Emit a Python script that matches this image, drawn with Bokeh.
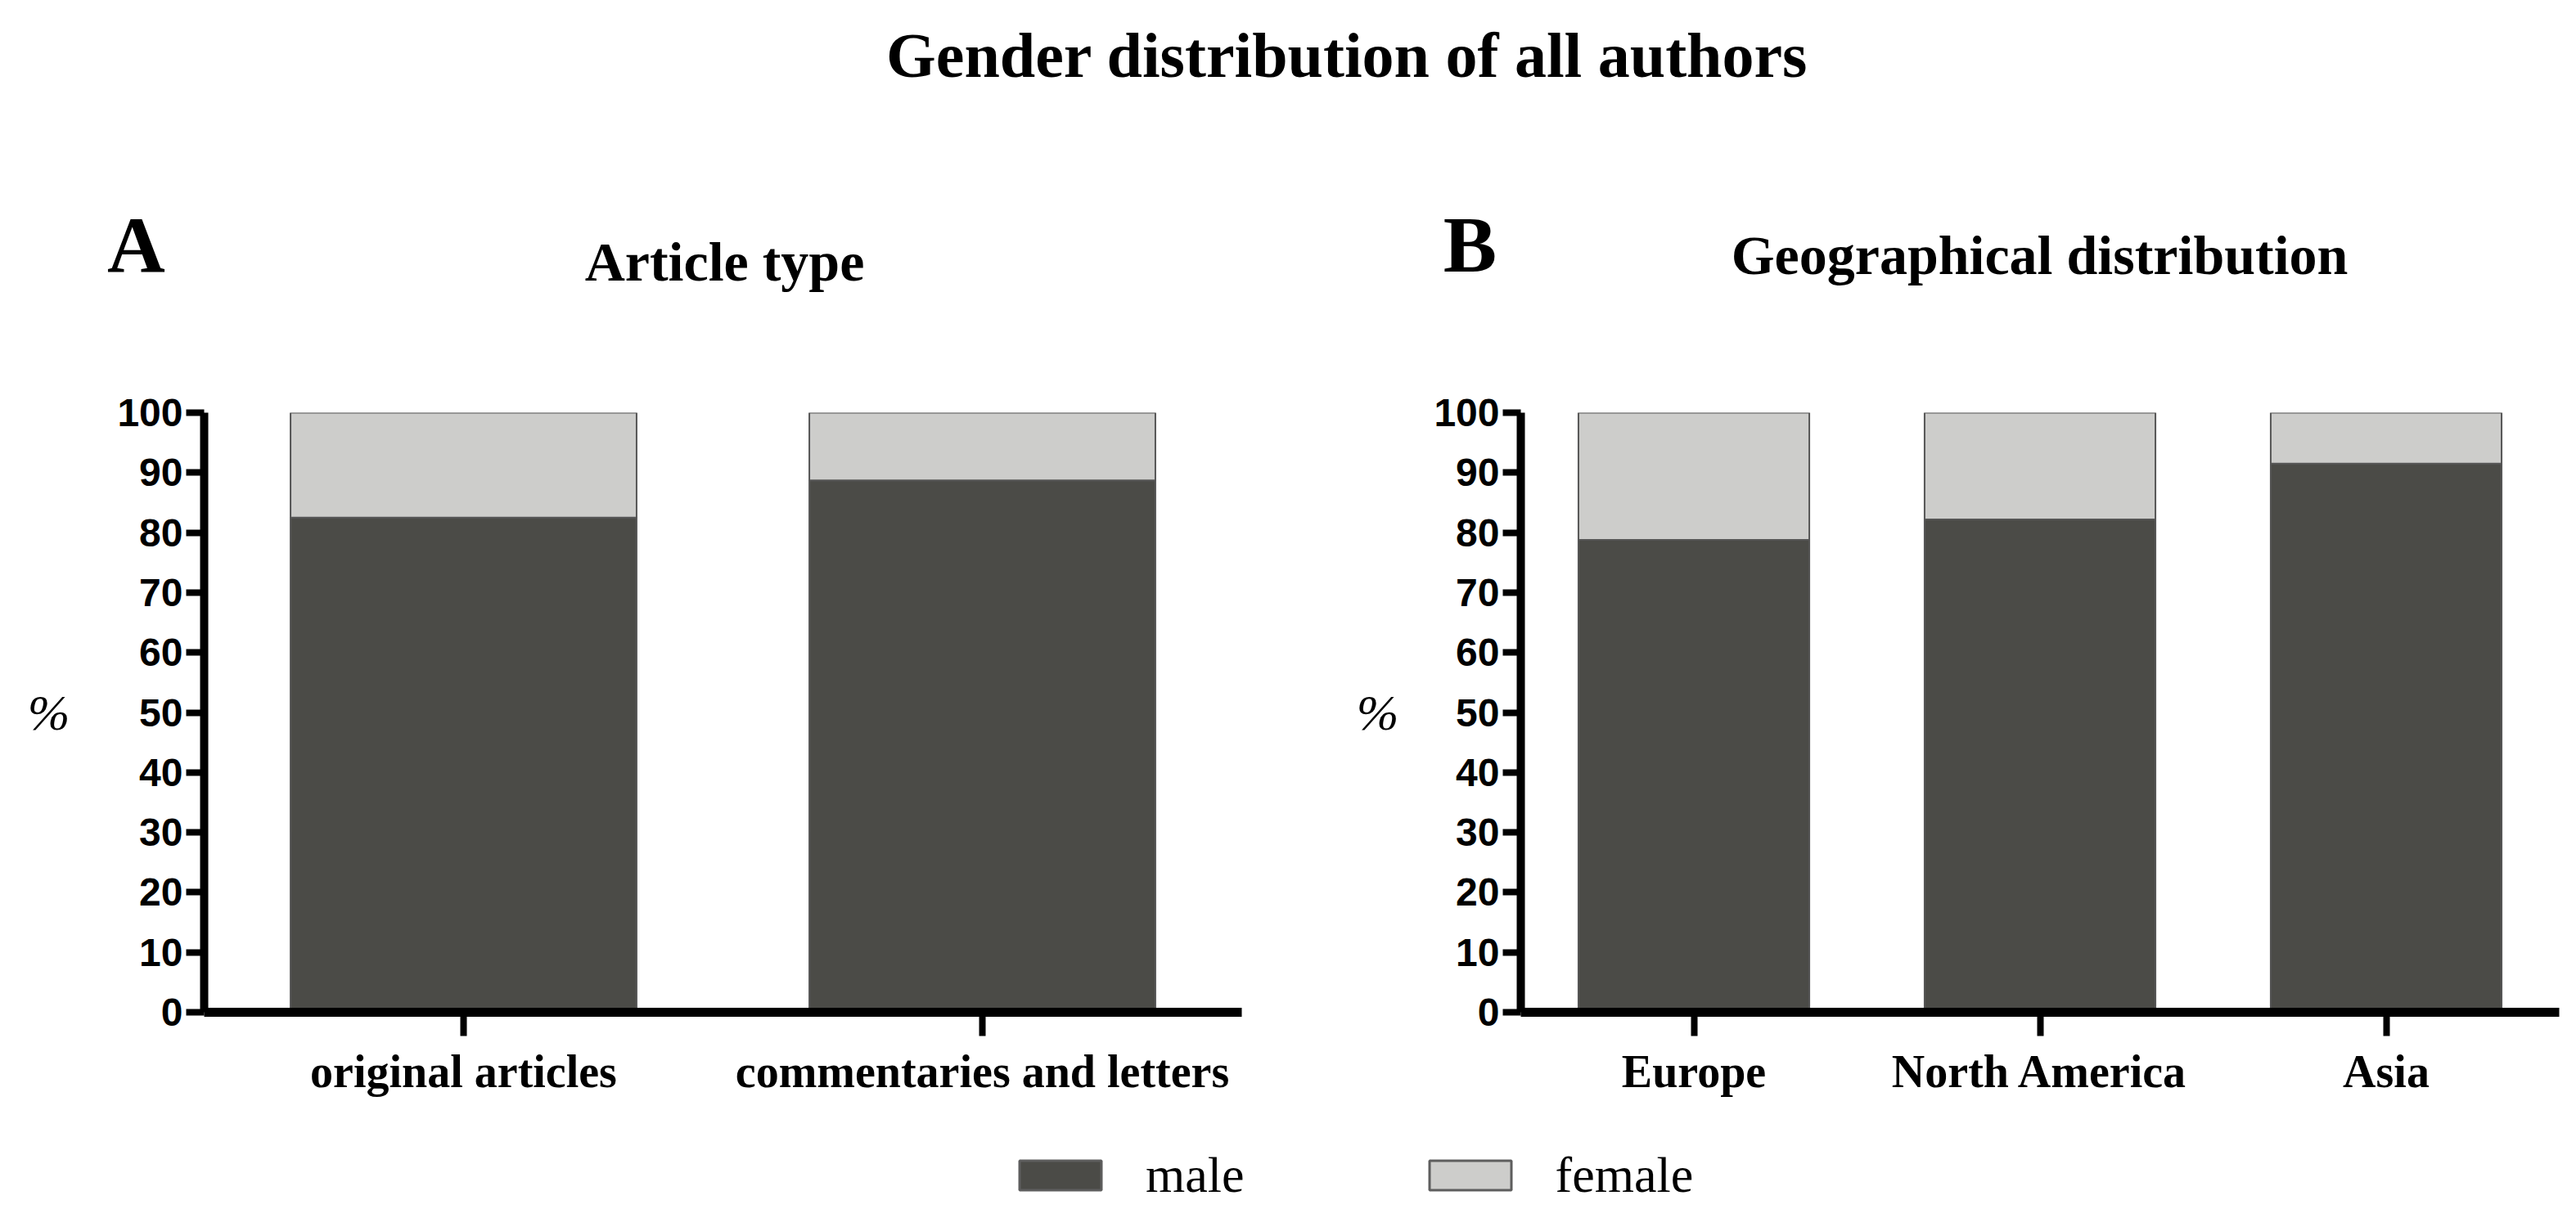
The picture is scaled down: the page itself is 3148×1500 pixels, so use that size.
from bokeh.plotting import figure
from bokeh.models import (Range1d, FactorRange, FixedTicker, Label, Legend,
                          LegendItem, ColumnDataSource)
from bokeh.layouts import column, row
from bokeh.embed import file_html
from bokeh.resources import INLINE
from bokeh.core.properties import value

# ---------------- data ----------------
main_title = "Gender distribution of all authors"
series = ["male", "female"]
colors = ["#4b4b47", "#cdcdcb"]

a_letter = "A"
a_title = "Article type"
a_categories = ["original articles", "commentaries and letters"]
a_male = [82.5, 88.7]
a_female = [17.5, 11.3]

b_letter = "B"
b_title = "Geographical distribution"
b_categories = ["Europe", "North America", "Asia"]
b_male = [78.8, 82.2, 91.5]
b_female = [21.2, 17.8, 8.5]

y_ticks = [0, 10, 20, 30, 40, 50, 60, 70, 80, 90, 100]
y_label = "%"

SERIF = "Liberation Serif"
SANS = "Liberation Sans"
TOTAL_W = 3132
TOP_H = 380
MID_H = 1000
BOT_H = 104


def panel(cats, male, female, width, bl, br, label_standoff):
    p = figure(width=width, height=MID_H, x_range=FactorRange(factors=cats),
               y_range=Range1d(0, 100), toolbar_location=None,
               output_backend="svg", title=None,
               min_border_left=bl, min_border_right=br,
               min_border_top=124, min_border_bottom=143)
    p.outline_line_color = None
    p.grid.visible = False

    src = ColumnDataSource(dict(cat=cats, male=male, female=female))
    p.vbar_stack(series, x="cat", width=0.667, fill_color=colors,
                 line_color="#555555", line_width=2, source=src)

    ya = p.yaxis[0]
    ya.ticker = FixedTicker(ticks=y_ticks)
    ya.axis_line_width = 10
    ya.axis_line_color = "black"
    ya.major_tick_line_width = 8
    ya.major_tick_out = 22
    ya.major_tick_in = 0
    ya.minor_tick_line_color = None
    ya.major_label_text_font = SANS
    ya.major_label_text_font_style = "bold"
    ya.major_label_text_font_size = "48px"
    ya.major_label_text_color = "black"
    ya.major_label_standoff = 4
    ya.axis_label = y_label
    ya.axis_label_text_font = SERIF
    ya.axis_label_text_font_style = "italic"
    ya.axis_label_text_font_size = "62px"
    ya.axis_label_text_color = "black"
    ya.axis_label_standoff = label_standoff
    try:
        ya.axis_label_orientation = "horizontal"
    except Exception:
        pass

    xa = p.xaxis[0]
    xa.axis_line_width = 11
    xa.axis_line_color = "black"
    xa.major_tick_line_width = 8
    xa.major_tick_out = 29
    xa.major_tick_in = 0
    xa.minor_tick_line_color = None
    xa.major_label_text_font = SERIF
    xa.major_label_text_font_style = "bold"
    xa.major_label_text_font_size = "56px"
    xa.major_label_text_color = "black"
    xa.major_label_standoff = 12
    return p


pa = panel(a_categories, a_male, a_female, 1566, 249, 49, 55)
pb = panel(b_categories, b_male, b_female, 1566, 292, 5, 40)

# ---------------- titles ----------------
pt = figure(width=TOTAL_W, height=TOP_H, toolbar_location=None, output_backend="svg",
            title=None, min_border=0, x_axis_location=None, y_axis_location=None,
            x_range=Range1d(0, 1), y_range=Range1d(0, 1))
pt.outline_line_color = None
pt.grid.visible = False


def add_text(p, x, y, text, size, style="bold"):
    p.add_layout(Label(x=x, y=y, x_units="screen", y_units="screen",
                       text=text, text_font=SERIF, text_font_style=style,
                       text_font_size=size, text_align="center",
                       text_baseline="middle", text_color="black"))


add_text(pt, 1646, 313, main_title, "78px")
add_text(pt, 166, 82, a_letter, "98px")
add_text(pt, 885, 61, a_title, "68px")
add_text(pt, 1796, 82, b_letter, "98px")
add_text(pt, 2492, 69, b_title, "68px")

# ---------------- legend ----------------
pl = figure(width=TOTAL_W, height=BOT_H, toolbar_location=None, output_backend="svg",
            title=None, min_border=0, x_axis_location=None, y_axis_location=None,
            x_range=FactorRange(factors=a_categories), y_range=Range1d(0, 100))
pl.outline_line_color = None
pl.grid.visible = False
lsrc = ColumnDataSource(dict(cat=a_categories, male=a_male, female=a_female))
# the legend's own renderers (hidden): only their legend swatches are shown
lr = pl.vbar_stack(series, x="cat", width=0.5, fill_color=colors,
                   line_color="#5e5e5e", line_width=3, source=lsrc, visible=False)
legend = Legend(items=[LegendItem(label=value(s), renderers=[r]) for s, r in zip(series, lr)],
                orientation="horizontal", location=(1233, 12),
                glyph_width=125, glyph_height=45, label_standoff=42, spacing=213,
                padding=0, margin=0, border_line_color=None,
                background_fill_alpha=0, inactive_fill_alpha=0,
                label_text_font=SERIF,
                label_text_font_size="62px", label_text_color="black")
pl.add_layout(legend)

layout = column(pt, row(pa, pb), pl)
open("out.html", "w").write(file_html(layout, INLINE))
